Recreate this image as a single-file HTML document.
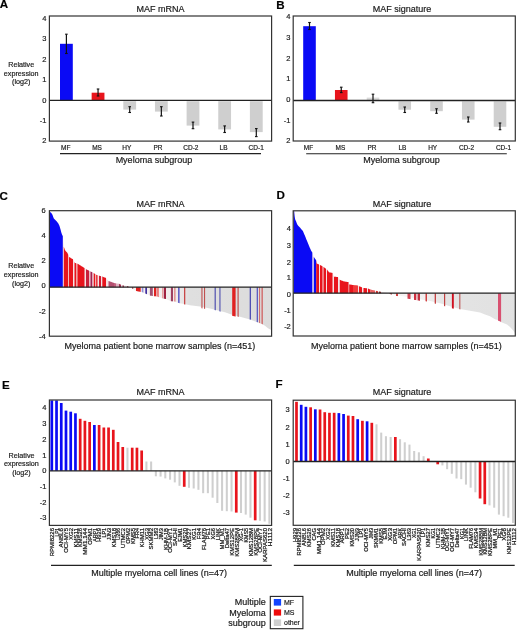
<!DOCTYPE html>
<html><head><meta charset="utf-8"><style>
html,body{margin:0;padding:0;background:#fff;}
svg{display:block;font-family:"Liberation Sans", sans-serif;will-change:transform;}
text{stroke:#1a1a1a;stroke-width:0.18px;}
</style></head><body>
<svg width="520" height="633" viewBox="0 0 520 633">
<rect x="0" y="0" width="520" height="633" fill="#fff"/>
<text x="-0.20" y="8.30" font-size="11.6" text-anchor="start" font-weight="bold" fill="#000" >A</text>
<text x="276.30" y="8.60" font-size="11.6" text-anchor="start" font-weight="bold" fill="#000" >B</text>
<text x="-0.60" y="199.60" font-size="11.6" text-anchor="start" font-weight="bold" fill="#000" >C</text>
<text x="276.60" y="199.20" font-size="11.6" text-anchor="start" font-weight="bold" fill="#000" >D</text>
<text x="2.00" y="388.60" font-size="11.6" text-anchor="start" font-weight="bold" fill="#000" >E</text>
<text x="275.60" y="388.20" font-size="11.6" text-anchor="start" font-weight="bold" fill="#000" >F</text>
<text x="160.50" y="11.90" font-size="9" text-anchor="middle" font-weight="normal" fill="#1a1a1a" >MAF mRNA</text>
<rect x="60.00" y="43.80" width="12.80" height="56.50" fill="#0a0af5" />
<line x1="66.40" y1="34.20" x2="66.40" y2="53.50" stroke="#111" stroke-width="1.2"/>
<line x1="65.10" y1="34.20" x2="67.70" y2="34.20" stroke="#111" stroke-width="1.1"/>
<line x1="65.10" y1="53.50" x2="67.70" y2="53.50" stroke="#111" stroke-width="1.1"/>
<text x="65.80" y="149.80" font-size="6.5" text-anchor="middle" font-weight="normal" fill="#1a1a1a" >MF</text>
<rect x="91.65" y="92.70" width="12.80" height="7.60" fill="#e8141c" />
<line x1="98.05" y1="89.00" x2="98.05" y2="96.00" stroke="#111" stroke-width="1.2"/>
<line x1="96.75" y1="89.00" x2="99.35" y2="89.00" stroke="#111" stroke-width="1.1"/>
<line x1="96.75" y1="96.00" x2="99.35" y2="96.00" stroke="#111" stroke-width="1.1"/>
<text x="97.00" y="149.80" font-size="6.5" text-anchor="middle" font-weight="normal" fill="#1a1a1a" >MS</text>
<rect x="123.30" y="101.20" width="12.80" height="8.40" fill="#cfcfcf" />
<line x1="129.70" y1="106.70" x2="129.70" y2="112.50" stroke="#111" stroke-width="1.2"/>
<line x1="128.40" y1="106.70" x2="131.00" y2="106.70" stroke="#111" stroke-width="1.1"/>
<line x1="128.40" y1="112.50" x2="131.00" y2="112.50" stroke="#111" stroke-width="1.1"/>
<text x="126.80" y="149.80" font-size="6.5" text-anchor="middle" font-weight="normal" fill="#1a1a1a" >HY</text>
<rect x="154.95" y="101.20" width="12.80" height="10.40" fill="#cfcfcf" />
<line x1="161.35" y1="106.70" x2="161.35" y2="116.00" stroke="#111" stroke-width="1.2"/>
<line x1="160.05" y1="106.70" x2="162.65" y2="106.70" stroke="#111" stroke-width="1.1"/>
<line x1="160.05" y1="116.00" x2="162.65" y2="116.00" stroke="#111" stroke-width="1.1"/>
<text x="157.90" y="149.80" font-size="6.5" text-anchor="middle" font-weight="normal" fill="#1a1a1a" >PR</text>
<rect x="186.60" y="101.20" width="12.80" height="24.40" fill="#cfcfcf" />
<line x1="193.00" y1="122.10" x2="193.00" y2="128.70" stroke="#111" stroke-width="1.2"/>
<line x1="191.70" y1="122.10" x2="194.30" y2="122.10" stroke="#111" stroke-width="1.1"/>
<line x1="191.70" y1="128.70" x2="194.30" y2="128.70" stroke="#111" stroke-width="1.1"/>
<text x="190.90" y="149.80" font-size="6.5" text-anchor="middle" font-weight="normal" fill="#1a1a1a" >CD-2</text>
<rect x="218.25" y="101.20" width="12.80" height="28.20" fill="#cfcfcf" />
<line x1="224.65" y1="125.90" x2="224.65" y2="132.50" stroke="#111" stroke-width="1.2"/>
<line x1="223.35" y1="125.90" x2="225.95" y2="125.90" stroke="#111" stroke-width="1.1"/>
<line x1="223.35" y1="132.50" x2="225.95" y2="132.50" stroke="#111" stroke-width="1.1"/>
<text x="223.60" y="149.80" font-size="6.5" text-anchor="middle" font-weight="normal" fill="#1a1a1a" >LB</text>
<rect x="249.90" y="101.20" width="12.80" height="30.90" fill="#cfcfcf" />
<line x1="256.30" y1="128.60" x2="256.30" y2="136.60" stroke="#111" stroke-width="1.2"/>
<line x1="255.00" y1="128.60" x2="257.60" y2="128.60" stroke="#111" stroke-width="1.1"/>
<line x1="255.00" y1="136.60" x2="257.60" y2="136.60" stroke="#111" stroke-width="1.1"/>
<text x="256.20" y="149.80" font-size="6.5" text-anchor="middle" font-weight="normal" fill="#1a1a1a" >CD-1</text>
<line x1="49.40" y1="100.30" x2="271.60" y2="100.30" stroke="#222" stroke-width="1.3"/>
<rect x="49.40" y="16.00" width="222.20" height="125.10" fill="none" stroke="#333" stroke-width="1.2"/>
<text x="46.40" y="20.90" font-size="7.5" text-anchor="end" font-weight="normal" fill="#1a1a1a" >4</text>
<text x="46.40" y="41.30" font-size="7.5" text-anchor="end" font-weight="normal" fill="#1a1a1a" >3</text>
<text x="46.40" y="61.60" font-size="7.5" text-anchor="end" font-weight="normal" fill="#1a1a1a" >2</text>
<text x="46.40" y="82.20" font-size="7.5" text-anchor="end" font-weight="normal" fill="#1a1a1a" >1</text>
<text x="46.40" y="102.80" font-size="7.5" text-anchor="end" font-weight="normal" fill="#1a1a1a" >0</text>
<text x="46.40" y="123.10" font-size="7.5" text-anchor="end" font-weight="normal" fill="#1a1a1a" >-1</text>
<text x="46.40" y="143.00" font-size="7.5" text-anchor="end" font-weight="normal" fill="#1a1a1a" >2</text>
<text x="21.20" y="67.00" font-size="7.2" text-anchor="middle" font-weight="normal" fill="#1a1a1a" >Relative</text>
<text x="21.20" y="75.60" font-size="7.2" text-anchor="middle" font-weight="normal" fill="#1a1a1a" >expression</text>
<text x="21.20" y="84.20" font-size="7.2" text-anchor="middle" font-weight="normal" fill="#1a1a1a" >(log2)</text>
<line x1="60.00" y1="153.60" x2="261.00" y2="153.60" stroke="#222" stroke-width="1.1"/>
<text x="153.90" y="162.80" font-size="9" text-anchor="middle" font-weight="normal" fill="#1a1a1a" >Myeloma subgroup</text>
<text x="402.00" y="12.00" font-size="9" text-anchor="middle" font-weight="normal" fill="#1a1a1a" >MAF signature</text>
<rect x="303.20" y="26.20" width="12.60" height="74.30" fill="#0a0af5" />
<line x1="309.50" y1="22.50" x2="309.50" y2="29.50" stroke="#111" stroke-width="1.2"/>
<line x1="308.20" y1="22.50" x2="310.80" y2="22.50" stroke="#111" stroke-width="1.1"/>
<line x1="308.20" y1="29.50" x2="310.80" y2="29.50" stroke="#111" stroke-width="1.1"/>
<text x="308.50" y="149.80" font-size="6.5" text-anchor="middle" font-weight="normal" fill="#1a1a1a" >MF</text>
<rect x="334.95" y="90.00" width="12.60" height="10.50" fill="#e8141c" />
<line x1="341.25" y1="87.20" x2="341.25" y2="92.60" stroke="#111" stroke-width="1.2"/>
<line x1="339.95" y1="87.20" x2="342.55" y2="87.20" stroke="#111" stroke-width="1.1"/>
<line x1="339.95" y1="92.60" x2="342.55" y2="92.60" stroke="#111" stroke-width="1.1"/>
<text x="340.40" y="149.80" font-size="6.5" text-anchor="middle" font-weight="normal" fill="#1a1a1a" >MS</text>
<rect x="366.70" y="97.60" width="12.60" height="2.90" fill="#dadada" />
<line x1="373.00" y1="94.20" x2="373.00" y2="102.70" stroke="#111" stroke-width="1.2"/>
<line x1="371.70" y1="94.20" x2="374.30" y2="94.20" stroke="#111" stroke-width="1.1"/>
<line x1="371.70" y1="102.70" x2="374.30" y2="102.70" stroke="#111" stroke-width="1.1"/>
<text x="372.00" y="149.80" font-size="6.5" text-anchor="middle" font-weight="normal" fill="#1a1a1a" >PR</text>
<rect x="398.45" y="101.40" width="12.60" height="8.30" fill="#cfcfcf" />
<line x1="404.75" y1="107.00" x2="404.75" y2="112.50" stroke="#111" stroke-width="1.2"/>
<line x1="403.45" y1="107.00" x2="406.05" y2="107.00" stroke="#111" stroke-width="1.1"/>
<line x1="403.45" y1="112.50" x2="406.05" y2="112.50" stroke="#111" stroke-width="1.1"/>
<text x="402.40" y="149.80" font-size="6.5" text-anchor="middle" font-weight="normal" fill="#1a1a1a" >LB</text>
<rect x="430.20" y="101.40" width="12.60" height="9.80" fill="#cfcfcf" />
<line x1="436.50" y1="108.75" x2="436.50" y2="113.30" stroke="#111" stroke-width="1.2"/>
<line x1="435.20" y1="108.75" x2="437.80" y2="108.75" stroke="#111" stroke-width="1.1"/>
<line x1="435.20" y1="113.30" x2="437.80" y2="113.30" stroke="#111" stroke-width="1.1"/>
<text x="432.70" y="149.80" font-size="6.5" text-anchor="middle" font-weight="normal" fill="#1a1a1a" >HY</text>
<rect x="461.95" y="101.40" width="12.60" height="18.20" fill="#cfcfcf" />
<line x1="468.25" y1="117.00" x2="468.25" y2="122.00" stroke="#111" stroke-width="1.2"/>
<line x1="466.95" y1="117.00" x2="469.55" y2="117.00" stroke="#111" stroke-width="1.1"/>
<line x1="466.95" y1="122.00" x2="469.55" y2="122.00" stroke="#111" stroke-width="1.1"/>
<text x="466.50" y="149.80" font-size="6.5" text-anchor="middle" font-weight="normal" fill="#1a1a1a" >CD-2</text>
<rect x="493.70" y="101.40" width="12.60" height="25.40" fill="#cfcfcf" />
<line x1="500.00" y1="123.00" x2="500.00" y2="129.70" stroke="#111" stroke-width="1.2"/>
<line x1="498.70" y1="123.00" x2="501.30" y2="123.00" stroke="#111" stroke-width="1.1"/>
<line x1="498.70" y1="129.70" x2="501.30" y2="129.70" stroke="#111" stroke-width="1.1"/>
<text x="503.50" y="149.80" font-size="6.5" text-anchor="middle" font-weight="normal" fill="#1a1a1a" >CD-1</text>
<line x1="293.20" y1="100.50" x2="515.30" y2="100.50" stroke="#222" stroke-width="1.3"/>
<rect x="293.20" y="16.00" width="222.10" height="125.00" fill="none" stroke="#333" stroke-width="1.2"/>
<text x="290.40" y="19.30" font-size="7.5" text-anchor="end" font-weight="normal" fill="#1a1a1a" >4</text>
<text x="290.40" y="40.20" font-size="7.5" text-anchor="end" font-weight="normal" fill="#1a1a1a" >3</text>
<text x="290.40" y="61.20" font-size="7.5" text-anchor="end" font-weight="normal" fill="#1a1a1a" >2</text>
<text x="290.40" y="81.10" font-size="7.5" text-anchor="end" font-weight="normal" fill="#1a1a1a" >1</text>
<text x="290.40" y="101.90" font-size="7.5" text-anchor="end" font-weight="normal" fill="#1a1a1a" >0</text>
<text x="290.40" y="122.50" font-size="7.5" text-anchor="end" font-weight="normal" fill="#1a1a1a" >-1</text>
<text x="290.40" y="143.00" font-size="7.5" text-anchor="end" font-weight="normal" fill="#1a1a1a" >2</text>
<line x1="306.20" y1="153.70" x2="506.80" y2="153.70" stroke="#222" stroke-width="1.1"/>
<text x="401.60" y="162.90" font-size="9" text-anchor="middle" font-weight="normal" fill="#1a1a1a" >Myeloma subgroup</text>
<text x="160.50" y="206.50" font-size="9" text-anchor="middle" font-weight="normal" fill="#1a1a1a" >MAF mRNA</text>
<defs><linearGradient id="gC" gradientUnits="userSpaceOnUse" x1="130" y1="0" x2="272" y2="0"><stop offset="0" stop-color="#f7f3f3"/><stop offset="0.33" stop-color="#efebeb"/><stop offset="0.42" stop-color="#dfdfdf"/><stop offset="1" stop-color="#dcdcdc"/></linearGradient><linearGradient id="gD" gradientUnits="userSpaceOnUse" x1="389" y1="0" x2="516" y2="0"><stop offset="0" stop-color="#faf6f6"/><stop offset="0.28" stop-color="#f0eeee"/><stop offset="0.45" stop-color="#e4e4e4"/><stop offset="1" stop-color="#e1e1e1"/></linearGradient></defs>
<polygon points="49.80,287.20 49.80,211.90 51.50,213.10 52.50,215.00 53.70,218.30 56.00,220.60 58.30,223.50 59.50,226.00 60.60,229.80 61.40,233.00 62.20,235.20 62.80,236.00 63.30,242.00 63.80,246.70 65.00,250.30 67.50,253.00 69.00,257.00 73.00,259.30 75.00,262.90 77.50,263.70 84.50,268.00 86.00,269.20 90.50,271.50 93.70,273.00 96.20,274.70 99.00,275.70 102.30,276.60 106.00,278.00 108.50,281.00 114.00,282.90 116.00,283.50 119.00,283.80 122.50,285.30 127.00,286.00 130.00,287.20 130.00,287.20" fill="#f4e4e6"/>
<polygon points="130.00,287.20 130.00,287.20 132.60,288.70 136.00,291.00 141.80,292.10 145.30,293.60 150.00,295.60 154.00,296.20 157.00,296.50 163.00,298.50 166.00,299.00 171.00,301.30 175.00,301.50 178.50,303.00 184.00,304.00 190.00,305.20 200.00,306.40 210.00,308.50 220.00,311.00 225.00,312.30 232.00,314.70 240.00,316.70 250.00,319.50 258.00,322.40 262.00,323.90 265.00,325.80 268.00,328.20 271.20,330.10 271.20,287.20" fill="url(#gC)"/>
<polygon points="49.80,287.20 49.80,211.90 50.30,212.25 50.80,212.61 51.30,212.96 51.80,213.67 52.30,214.62 52.80,215.82 53.30,217.20 53.80,218.40 54.30,218.90 54.80,219.40 55.30,219.90 55.80,220.40 56.30,220.98 56.80,221.61 57.30,222.24 57.80,222.87 58.30,223.50 58.80,224.54 59.30,225.58 59.80,227.04 60.30,228.76 60.80,230.60 61.30,232.60 61.80,234.10 62.30,235.33 62.80,236.00 62.80,287.20" fill="#0a0af5"/>
<polygon points="63.80,287.20 63.80,246.70 64.35,248.35 64.90,250.00 65.45,250.79 66.00,251.38 66.55,251.97 67.10,252.57 67.65,253.40 68.20,254.87 68.20,287.20" fill="#e8141c"/>
<polygon points="69.00,287.20 69.00,257.00 69.50,257.29 70.00,257.57 70.50,257.86 71.00,258.15 71.50,258.44 72.00,258.73 72.50,259.01 73.00,259.30 73.00,287.20" fill="#e8141c"/>
<polygon points="74.50,287.20 74.50,262.00 75.00,262.90 75.50,263.06 76.00,263.22 76.00,287.20" fill="#e8141c"/>
<polygon points="76.00,287.20 76.00,263.22 76.50,263.38 77.00,263.54 77.50,263.70 77.50,287.20" fill="#f0a0a0"/>
<polygon points="77.50,287.20 77.50,263.70 78.00,264.01 78.50,264.31 79.00,264.62 79.50,264.93 80.00,265.24 80.50,265.54 81.00,265.85 81.50,266.16 82.00,266.46 82.50,266.77 83.00,267.08 83.50,267.39 84.00,267.69 84.50,268.00 84.50,287.20" fill="#e8141c"/>
<polygon points="86.00,287.20 86.00,269.20 86.55,269.48 87.10,269.76 87.65,270.04 88.20,270.32 88.75,270.61 89.30,270.89 89.30,287.20" fill="#c8203a"/>
<polygon points="89.30,287.20 89.30,270.89 89.90,271.19 90.50,271.50 90.50,287.20" fill="#f0c0c8"/>
<polygon points="90.50,287.20 90.50,271.50 91.10,271.78 91.70,272.06 92.30,272.34 92.30,287.20" fill="#a42050"/>
<polygon points="93.70,287.20 93.70,273.00 94.35,273.44 95.00,273.88 95.00,287.20" fill="#e8141c"/>
<polygon points="95.00,287.20 95.00,273.88 95.60,274.29 96.20,274.70 96.20,287.20" fill="#f0b0b0"/>
<polygon points="96.20,287.20 96.20,274.70 96.85,274.93 97.50,275.16 97.50,287.20" fill="#e8141c"/>
<polygon points="99.00,287.20 99.00,275.70 99.50,275.84 100.00,275.97 100.50,276.11 101.00,276.25 101.00,287.20" fill="#d01830"/>
<polygon points="102.30,287.20 102.30,276.60 102.83,276.80 103.36,277.00 103.89,277.20 104.41,277.40 104.94,277.60 105.47,277.80 106.00,278.00 106.00,287.20" fill="#e8141c"/>
<polygon points="108.50,287.20 108.50,281.00 109.00,281.17 109.50,281.35 110.00,281.52 110.50,281.69 111.00,281.86 111.50,282.04 112.00,282.21 112.50,282.38 113.00,282.55 113.50,282.73 114.00,282.90 114.00,287.20" fill="#b45070"/>
<polygon points="114.00,287.20 114.00,282.90 114.50,283.05 115.00,283.20 115.50,283.35 116.00,283.50 116.00,287.20" fill="#c46080"/>
<polygon points="116.00,287.20 116.00,283.50 116.50,283.55 117.00,283.60 117.50,283.65 118.00,283.70 118.50,283.75 119.00,283.80 119.00,287.20" fill="#e0b0c0"/>
<polygon points="119.00,287.20 119.00,283.80 119.50,284.01 120.00,284.23 120.50,284.44 121.00,284.66 121.00,287.20" fill="#a03050"/>
<polygon points="122.50,287.20 122.50,285.30 123.00,285.38 123.50,285.46 124.00,285.53 124.00,287.20" fill="#a03050"/>
<polygon points="127.00,287.20 127.00,286.00 127.50,286.20 128.00,286.40 128.50,286.60 128.50,287.20" fill="#902030"/>
<polygon points="132.00,287.20 132.00,288.35 132.60,288.70 133.20,289.11 133.20,287.20" fill="#902a30"/>
<polygon points="136.00,287.20 136.00,291.00 136.52,291.10 137.04,291.20 137.57,291.30 138.09,291.40 138.61,291.50 139.13,291.59 139.66,291.69 140.18,291.79 140.70,291.89 140.70,287.20" fill="#e02020"/>
<polygon points="141.80,287.20 141.80,292.10 142.33,292.33 142.87,292.56 143.40,292.79 143.40,287.20" fill="#9090d8"/>
<polygon points="145.30,287.20 145.30,293.60 145.87,293.84 146.43,294.08 147.00,294.32 147.00,287.20" fill="#4030a0"/>
<polygon points="149.90,287.20 149.90,295.56 150.48,295.67 151.06,295.76 151.64,295.85 152.22,295.93 152.80,296.02 152.80,287.20" fill="#a05070"/>
<polygon points="154.00,287.20 154.00,296.20 154.57,296.26 155.15,296.31 155.73,296.37 156.30,296.43 156.30,287.20" fill="#e02020"/>
<polygon points="156.80,287.20 156.80,296.48 157.33,296.61 157.85,296.78 158.38,296.96 158.90,297.13 158.90,287.20" fill="#e88080"/>
<polygon points="162.00,287.20 162.00,298.17 162.60,298.37 163.20,298.53 163.20,287.20" fill="#e8a0a0"/>
<polygon points="163.80,287.20 163.80,298.63 164.35,298.73 164.90,298.82 165.45,298.91 166.00,299.00 166.00,287.20" fill="#a02040"/>
<polygon points="170.90,287.20 170.90,301.25 171.43,301.32 171.95,301.35 172.47,301.37 173.00,301.40 173.00,287.20" fill="#a04060"/>
<polygon points="174.20,287.20 174.20,301.46 174.85,301.49 175.50,301.71 175.50,287.20" fill="#e08080"/>
<polygon points="178.20,287.20 178.20,302.87 178.85,303.06 179.50,303.18 179.50,287.20" fill="#4040c0"/>
<polygon points="184.00,287.20 184.00,304.30 184.65,304.43 185.30,304.56 185.30,287.20" fill="#c84848"/>
<polygon points="201.40,287.20 201.40,308.19 201.95,308.31 202.50,308.42 202.50,287.20" fill="#c05050"/>
<polygon points="204.00,287.20 204.00,308.74 204.55,308.86 205.10,308.97 205.10,287.20" fill="#c05050"/>
<polygon points="214.60,287.20 214.60,310.05 215.20,310.20 215.80,310.35 215.80,287.20" fill="#5050b0"/>
<polygon points="219.40,287.20 219.40,311.35 219.95,311.49 220.50,311.63 220.50,287.20" fill="#5050b0"/>
<polygon points="232.20,287.20 232.20,315.75 232.77,315.89 233.33,316.03 233.90,316.17 234.47,316.32 235.03,316.46 235.60,316.60 235.60,287.20" fill="#e02020"/>
<polygon points="237.50,287.20 237.50,316.57 238.10,316.72 238.70,316.88 238.70,287.20" fill="#c05050"/>
<polygon points="249.70,287.20 249.70,319.42 250.30,319.61 250.90,319.83 250.90,287.20" fill="#4040b0"/>
<polygon points="256.70,287.20 256.70,321.93 257.30,322.15 257.90,322.36 257.90,287.20" fill="#5050c0"/>
<polygon points="259.00,287.20 259.00,322.77 259.55,322.98 260.10,323.19 260.10,287.20" fill="#d07070"/>
<polygon points="261.50,287.20 261.50,323.71 262.15,323.99 262.80,324.41 262.80,287.20" fill="#d06060"/>
<line x1="49.40" y1="287.20" x2="271.60" y2="287.20" stroke="#222" stroke-width="1.3"/>
<rect x="49.40" y="210.70" width="222.20" height="125.50" fill="none" stroke="#333" stroke-width="1.2"/>
<text x="45.60" y="212.70" font-size="7.5" text-anchor="end" font-weight="normal" fill="#1a1a1a" >6</text>
<text x="45.60" y="237.50" font-size="7.5" text-anchor="end" font-weight="normal" fill="#1a1a1a" >4</text>
<text x="45.60" y="262.90" font-size="7.5" text-anchor="end" font-weight="normal" fill="#1a1a1a" >2</text>
<text x="45.60" y="288.30" font-size="7.5" text-anchor="end" font-weight="normal" fill="#1a1a1a" >0</text>
<text x="45.60" y="313.90" font-size="7.5" text-anchor="end" font-weight="normal" fill="#1a1a1a" >-2</text>
<text x="45.60" y="338.80" font-size="7.5" text-anchor="end" font-weight="normal" fill="#1a1a1a" >-4</text>
<text x="21.20" y="268.40" font-size="7.2" text-anchor="middle" font-weight="normal" fill="#1a1a1a" >Relative</text>
<text x="21.20" y="277.00" font-size="7.2" text-anchor="middle" font-weight="normal" fill="#1a1a1a" >expression</text>
<text x="21.20" y="285.60" font-size="7.2" text-anchor="middle" font-weight="normal" fill="#1a1a1a" >(log2)</text>
<text x="64.40" y="349.40" font-size="9" text-anchor="start" font-weight="normal" fill="#1a1a1a" >Myeloma patient bone marrow samples (n=451)</text>
<text x="402.00" y="206.50" font-size="9" text-anchor="middle" font-weight="normal" fill="#1a1a1a" >MAF signature</text>
<polygon points="293.60,293.20 293.60,210.80 294.40,211.00 294.70,218.40 295.80,220.80 297.40,224.80 300.20,227.90 302.90,231.10 304.90,235.80 306.50,239.80 308.50,244.50 310.10,248.50 311.60,251.60 312.30,252.50 313.80,256.90 316.20,260.50 316.30,263.40 320.00,264.90 323.50,267.00 327.00,269.50 329.00,272.30 332.50,272.90 334.00,276.70 338.00,277.00 339.80,279.80 344.00,281.50 348.50,282.10 349.20,284.40 353.00,285.00 358.00,285.50 359.00,286.20 363.50,287.90 368.00,288.50 370.50,289.60 376.00,290.80 379.00,291.50 385.00,292.60 389.00,293.20 389.00,293.20" fill="#f4e4e6"/>
<polygon points="389.00,293.20 389.00,293.20 392.00,294.10 396.00,295.50 400.00,295.80 410.00,297.60 420.00,299.30 430.00,301.00 440.00,303.30 450.00,306.20 460.00,309.10 470.00,310.70 480.00,312.50 485.00,314.50 490.00,316.20 495.00,319.30 500.00,320.80 502.00,322.40 507.00,324.60 510.00,326.90 513.00,330.20 515.00,333.00 515.00,293.20" fill="url(#gD)"/>
<polygon points="293.60,293.20 293.60,210.80 294.11,210.93 294.61,216.20 295.12,219.31 295.62,220.41 296.13,221.62 296.63,222.88 297.14,224.14 297.64,225.07 298.15,225.63 298.65,226.19 299.16,226.75 299.66,227.31 300.17,227.87 300.68,228.46 301.18,229.06 301.69,229.66 302.19,230.26 302.70,230.86 303.20,231.81 303.71,233.00 304.21,234.19 304.72,235.37 305.22,236.61 305.73,237.87 306.24,239.14 306.74,240.37 307.25,241.55 307.75,242.74 308.26,243.93 308.76,245.16 309.27,246.42 309.77,247.68 310.28,248.87 310.78,249.91 311.29,250.96 311.79,251.85 312.30,252.50 312.30,293.20" fill="#0a0af5"/>
<polygon points="313.80,293.20 313.80,256.90 314.40,257.80 315.00,258.70 315.60,259.60 316.20,260.50 316.20,293.20" fill="#0a0af5"/>
<polygon points="316.20,293.20 316.20,260.50 316.76,263.59 317.32,263.81 317.88,264.04 318.44,264.27 319.00,264.49 319.00,293.20" fill="#e8141c"/>
<polygon points="320.00,293.20 320.00,264.90 320.50,265.20 321.00,265.50 321.50,265.80 322.00,266.10 322.50,266.40 322.50,293.20" fill="#e8141c"/>
<polygon points="323.50,293.20 323.50,267.00 324.00,267.36 324.50,267.71 325.00,268.07 325.50,268.43 326.00,268.79 326.00,293.20" fill="#e8141c"/>
<polygon points="327.00,293.20 327.00,269.50 327.50,270.20 328.00,270.90 328.50,271.60 329.00,272.30 329.50,272.39 330.00,272.47 330.50,272.56 331.00,272.64 331.50,272.73 332.00,272.81 332.50,272.90 332.50,293.20" fill="#e8141c"/>
<polygon points="334.00,293.20 334.00,276.70 334.50,276.74 335.00,276.77 335.50,276.81 336.00,276.85 336.50,276.89 337.00,276.93 337.50,276.96 338.00,277.00 338.00,293.20" fill="#e8141c"/>
<polygon points="339.80,293.20 339.80,279.80 340.31,280.01 340.82,280.21 341.34,280.42 341.85,280.63 342.36,280.84 342.87,281.04 343.38,281.25 343.89,281.46 344.41,281.55 344.92,281.62 345.43,281.69 345.94,281.76 346.45,281.83 346.96,281.90 347.48,281.96 347.99,282.03 348.50,282.10 348.50,293.20" fill="#e8141c"/>
<polygon points="349.20,293.20 349.20,284.40 349.74,284.49 350.29,284.57 350.83,284.66 351.37,284.74 351.91,284.83 352.46,284.91 353.00,285.00 353.00,293.20" fill="#e8141c"/>
<polygon points="353.00,293.20 353.00,285.00 353.50,285.05 354.00,285.10 354.50,285.15 355.00,285.20 355.50,285.25 356.00,285.30 356.50,285.35 357.00,285.40 357.50,285.45 358.00,285.50 358.00,293.20" fill="#f03a3a"/>
<polygon points="359.00,293.20 359.00,286.20 359.50,286.39 360.00,286.58 360.50,286.77 361.00,286.96 361.50,287.14 362.00,287.33 362.00,293.20" fill="#e8141c"/>
<polygon points="363.50,293.20 363.50,287.90 364.00,287.97 364.50,288.03 365.00,288.10 365.50,288.17 366.00,288.23 366.50,288.30 367.00,288.37 367.00,293.20" fill="#e8141c"/>
<polygon points="368.00,293.20 368.00,288.50 368.50,288.72 369.00,288.94 369.50,289.16 370.00,289.38 370.50,289.60 370.50,293.20" fill="#e8141c"/>
<polygon points="370.50,293.20 370.50,289.60 371.00,289.71 371.50,289.82 372.00,289.93 372.50,290.04 373.00,290.15 373.50,290.25 374.00,290.36 374.50,290.47 375.00,290.58 375.00,293.20" fill="#e86060"/>
<polygon points="376.00,293.20 376.00,290.80 376.50,290.92 377.00,291.03 377.50,291.15 378.00,291.27 378.00,293.20" fill="#d83030"/>
<polygon points="379.00,293.20 379.00,291.50 379.50,291.59 380.00,291.68 380.50,291.77 381.00,291.87 381.00,293.20" fill="#902a2a"/>
<polygon points="389.50,293.20 389.50,293.85 390.00,294.00 390.50,294.15 391.00,294.30 391.50,294.45 392.00,294.60 392.00,293.20" fill="#a03030"/>
<polygon points="396.00,293.20 396.00,296.00 396.50,296.04 397.00,296.07 397.50,296.11 398.00,296.15 398.00,293.20" fill="#d04040"/>
<polygon points="407.50,293.20 407.50,298.65 408.00,298.74 408.50,298.83 409.00,298.92 409.50,299.01 410.00,299.10 410.50,299.19 410.50,293.20" fill="#d04050"/>
<polygon points="414.00,293.20 414.00,299.78 414.57,299.88 415.15,299.98 415.73,300.07 416.30,300.17 416.30,293.20" fill="#d03040"/>
<polygon points="417.60,293.20 417.60,300.39 418.20,300.49 418.80,300.60 419.40,300.70 420.00,300.80 420.00,293.20" fill="#c03040"/>
<polygon points="425.50,293.20 425.50,301.24 426.00,301.32 426.50,301.41 427.00,301.49 427.00,293.20" fill="#d04040"/>
<polygon points="434.70,293.20 434.70,303.58 435.30,303.72 435.90,303.86 435.90,293.20" fill="#c03030"/>
<polygon points="444.00,293.20 444.00,305.96 444.60,306.13 445.20,306.31 445.20,293.20" fill="#c04040"/>
<polygon points="451.90,293.20 451.90,308.25 452.53,308.43 453.17,308.62 453.80,308.80 453.80,293.20" fill="#d01020"/>
<polygon points="459.20,293.20 459.20,309.17 459.80,309.34 460.40,309.46 460.40,293.20" fill="#c06060"/>
<polygon points="498.00,293.20 498.00,320.70 498.52,320.86 499.03,321.01 499.55,321.17 500.07,321.35 500.58,321.77 501.10,322.18 501.10,293.20" fill="#d85070"/>
<line x1="293.20" y1="293.20" x2="515.30" y2="293.20" stroke="#222" stroke-width="1.3"/>
<rect x="293.20" y="210.80" width="222.10" height="125.20" fill="none" stroke="#333" stroke-width="1.2"/>
<text x="290.80" y="231.10" font-size="7.5" text-anchor="end" font-weight="normal" fill="#1a1a1a" >4</text>
<text x="290.80" y="248.10" font-size="7.5" text-anchor="end" font-weight="normal" fill="#1a1a1a" >3</text>
<text x="290.80" y="264.50" font-size="7.5" text-anchor="end" font-weight="normal" fill="#1a1a1a" >2</text>
<text x="290.80" y="280.40" font-size="7.5" text-anchor="end" font-weight="normal" fill="#1a1a1a" >1</text>
<text x="290.80" y="296.70" font-size="7.5" text-anchor="end" font-weight="normal" fill="#1a1a1a" >0</text>
<text x="290.80" y="312.50" font-size="7.5" text-anchor="end" font-weight="normal" fill="#1a1a1a" >-1</text>
<text x="290.80" y="329.00" font-size="7.5" text-anchor="end" font-weight="normal" fill="#1a1a1a" >-2</text>
<text x="311.00" y="348.60" font-size="9" text-anchor="start" font-weight="normal" fill="#1a1a1a" >Myeloma patient bone marrow samples (n=451)</text>
<text x="160.50" y="394.50" font-size="9" text-anchor="middle" font-weight="normal" fill="#1a1a1a" >MAF mRNA</text>
<rect x="50.45" y="400.40" width="2.70" height="70.40" fill="#0a0af5" />
<rect x="55.18" y="400.40" width="2.70" height="70.40" fill="#0a0af5" />
<rect x="59.91" y="403.00" width="2.70" height="67.80" fill="#0a0af5" />
<rect x="64.64" y="410.60" width="2.70" height="60.20" fill="#0a0af5" />
<rect x="69.37" y="411.70" width="2.70" height="59.10" fill="#0a0af5" />
<rect x="74.10" y="413.30" width="2.70" height="57.50" fill="#0a0af5" />
<rect x="78.83" y="418.80" width="2.70" height="52.00" fill="#e8141c" />
<rect x="83.56" y="420.80" width="2.70" height="50.00" fill="#e8141c" />
<rect x="88.29" y="422.00" width="2.70" height="48.80" fill="#e8141c" />
<rect x="93.02" y="425.00" width="2.70" height="45.80" fill="#0a0af5" />
<rect x="97.75" y="425.00" width="2.70" height="45.80" fill="#e8141c" />
<rect x="102.48" y="427.50" width="2.70" height="43.30" fill="#e8141c" />
<rect x="107.21" y="427.50" width="2.70" height="43.30" fill="#e8141c" />
<rect x="111.94" y="429.80" width="2.70" height="41.00" fill="#e8141c" />
<rect x="116.67" y="442.00" width="2.70" height="28.80" fill="#e8141c" />
<rect x="121.40" y="447.00" width="2.70" height="23.80" fill="#e8141c" />
<rect x="126.45" y="447.70" width="2.05" height="23.10" fill="#cfcfcf" />
<rect x="130.86" y="447.70" width="2.70" height="23.10" fill="#e8141c" />
<rect x="135.59" y="447.70" width="2.70" height="23.10" fill="#e8141c" />
<rect x="140.32" y="450.50" width="2.70" height="20.30" fill="#e8141c" />
<rect x="145.38" y="461.50" width="2.05" height="9.30" fill="#cfcfcf" />
<rect x="150.10" y="461.50" width="2.05" height="9.30" fill="#cfcfcf" />
<rect x="154.84" y="470.80" width="2.05" height="5.50" fill="#cfcfcf" />
<rect x="159.56" y="470.80" width="2.05" height="5.80" fill="#cfcfcf" />
<rect x="164.29" y="470.80" width="2.05" height="7.60" fill="#cfcfcf" />
<rect x="169.03" y="470.80" width="2.05" height="8.90" fill="#cfcfcf" />
<rect x="173.76" y="470.80" width="2.05" height="11.60" fill="#cfcfcf" />
<rect x="178.48" y="470.80" width="2.05" height="15.00" fill="#cfcfcf" />
<rect x="182.89" y="470.80" width="2.70" height="16.00" fill="#e8141c" />
<rect x="187.95" y="470.80" width="2.05" height="17.00" fill="#cfcfcf" />
<rect x="192.67" y="470.80" width="2.05" height="17.70" fill="#cfcfcf" />
<rect x="197.41" y="470.80" width="2.05" height="19.00" fill="#cfcfcf" />
<rect x="202.14" y="470.80" width="2.05" height="22.40" fill="#cfcfcf" />
<rect x="206.86" y="470.80" width="2.05" height="22.40" fill="#cfcfcf" />
<rect x="211.59" y="470.80" width="2.05" height="26.90" fill="#cfcfcf" />
<rect x="216.33" y="470.80" width="2.05" height="32.20" fill="#cfcfcf" />
<rect x="221.06" y="470.80" width="2.05" height="40.00" fill="#cfcfcf" />
<rect x="225.78" y="470.80" width="2.05" height="40.40" fill="#cfcfcf" />
<rect x="230.52" y="470.80" width="2.05" height="40.70" fill="#cfcfcf" />
<rect x="234.92" y="470.80" width="2.70" height="41.80" fill="#e8141c" />
<rect x="239.97" y="470.80" width="2.05" height="42.20" fill="#cfcfcf" />
<rect x="244.71" y="470.80" width="2.05" height="43.80" fill="#cfcfcf" />
<rect x="249.44" y="470.80" width="2.05" height="46.90" fill="#cfcfcf" />
<rect x="253.84" y="470.80" width="2.70" height="49.50" fill="#e8141c" />
<rect x="258.90" y="470.80" width="2.05" height="50.00" fill="#cfcfcf" />
<rect x="263.63" y="470.80" width="2.05" height="50.70" fill="#cfcfcf" />
<rect x="268.36" y="470.80" width="2.05" height="53.00" fill="#cfcfcf" />
<text transform="translate(54.00,528.0) rotate(-90)" font-size="6.0" text-anchor="end" fill="#1a1a1a" style="stroke-width:0.24px" textLength="28.2" lengthAdjust="spacingAndGlyphs">RPMI8226</text>
<text transform="translate(58.73,528.0) rotate(-90)" font-size="6.0" text-anchor="end" fill="#1a1a1a" style="stroke-width:0.24px" textLength="8.5" lengthAdjust="spacingAndGlyphs">LP1</text>
<text transform="translate(63.47,528.0) rotate(-90)" font-size="6.0" text-anchor="end" fill="#1a1a1a" style="stroke-width:0.24px" textLength="19.6" lengthAdjust="spacingAndGlyphs">ANBL6</text>
<text transform="translate(68.20,528.0) rotate(-90)" font-size="6.0" text-anchor="end" fill="#1a1a1a" style="stroke-width:0.24px" textLength="24.8" lengthAdjust="spacingAndGlyphs">OCI-MY5</text>
<text transform="translate(72.94,528.0) rotate(-90)" font-size="6.0" text-anchor="end" fill="#1a1a1a" style="stroke-width:0.24px" textLength="12.0" lengthAdjust="spacingAndGlyphs">XG2</text>
<text transform="translate(77.67,528.0) rotate(-90)" font-size="6.0" text-anchor="end" fill="#1a1a1a" style="stroke-width:0.24px" textLength="19.6" lengthAdjust="spacingAndGlyphs">KMS11</text>
<text transform="translate(82.41,528.0) rotate(-90)" font-size="6.0" text-anchor="end" fill="#1a1a1a" style="stroke-width:0.24px" textLength="19.0" lengthAdjust="spacingAndGlyphs">KMS26</text>
<text transform="translate(87.14,528.0) rotate(-90)" font-size="6.0" text-anchor="end" fill="#1a1a1a" style="stroke-width:0.24px" textLength="26.8" lengthAdjust="spacingAndGlyphs">MM1.144</text>
<text transform="translate(91.88,528.0) rotate(-90)" font-size="6.0" text-anchor="end" fill="#1a1a1a" style="stroke-width:0.24px" textLength="16.7" lengthAdjust="spacingAndGlyphs">OPM1</text>
<text transform="translate(96.61,528.0) rotate(-90)" font-size="6.0" text-anchor="end" fill="#1a1a1a" style="stroke-width:0.24px" textLength="13.8" lengthAdjust="spacingAndGlyphs">ARP1</text>
<text transform="translate(101.35,528.0) rotate(-90)" font-size="6.0" text-anchor="end" fill="#1a1a1a" style="stroke-width:0.24px" textLength="13.8" lengthAdjust="spacingAndGlyphs">H929</text>
<text transform="translate(106.08,528.0) rotate(-90)" font-size="6.0" text-anchor="end" fill="#1a1a1a" style="stroke-width:0.24px" textLength="9.5" lengthAdjust="spacingAndGlyphs">LP1</text>
<text transform="translate(110.82,528.0) rotate(-90)" font-size="6.0" text-anchor="end" fill="#1a1a1a" style="stroke-width:0.24px" textLength="12.3" lengthAdjust="spacingAndGlyphs">JJN3</text>
<text transform="translate(115.56,528.0) rotate(-90)" font-size="6.0" text-anchor="end" fill="#1a1a1a" style="stroke-width:0.24px" textLength="19.6" lengthAdjust="spacingAndGlyphs">KMS18</text>
<text transform="translate(120.29,528.0) rotate(-90)" font-size="6.0" text-anchor="end" fill="#1a1a1a" style="stroke-width:0.24px" textLength="12.0" lengthAdjust="spacingAndGlyphs">U266</text>
<text transform="translate(125.03,528.0) rotate(-90)" font-size="6.0" text-anchor="end" fill="#1a1a1a" style="stroke-width:0.24px" textLength="20.0" lengthAdjust="spacingAndGlyphs">UTMC2</text>
<text transform="translate(129.76,528.0) rotate(-90)" font-size="6.0" text-anchor="end" fill="#1a1a1a" style="stroke-width:0.24px" textLength="15.7" lengthAdjust="spacingAndGlyphs">OPM2</text>
<text transform="translate(134.50,528.0) rotate(-90)" font-size="6.0" text-anchor="end" fill="#1a1a1a" style="stroke-width:0.24px" textLength="16.0" lengthAdjust="spacingAndGlyphs">KMS5</text>
<text transform="translate(139.23,528.0) rotate(-90)" font-size="6.0" text-anchor="end" fill="#1a1a1a" style="stroke-width:0.24px" textLength="10.4" lengthAdjust="spacingAndGlyphs">FR4</text>
<text transform="translate(143.97,528.0) rotate(-90)" font-size="6.0" text-anchor="end" fill="#1a1a1a" style="stroke-width:0.24px" textLength="19.6" lengthAdjust="spacingAndGlyphs">KHM11</text>
<text transform="translate(148.70,528.0) rotate(-90)" font-size="6.0" text-anchor="end" fill="#1a1a1a" style="stroke-width:0.24px" textLength="12.0" lengthAdjust="spacingAndGlyphs">XG3</text>
<text transform="translate(153.44,528.0) rotate(-90)" font-size="6.0" text-anchor="end" fill="#1a1a1a" style="stroke-width:0.24px" textLength="21.5" lengthAdjust="spacingAndGlyphs">SKMM2</text>
<text transform="translate(158.17,528.0) rotate(-90)" font-size="6.0" text-anchor="end" fill="#1a1a1a" style="stroke-width:0.24px" textLength="11.0" lengthAdjust="spacingAndGlyphs">L363</text>
<text transform="translate(162.91,528.0) rotate(-90)" font-size="6.0" text-anchor="end" fill="#1a1a1a" style="stroke-width:0.24px" textLength="12.3" lengthAdjust="spacingAndGlyphs">JIM3</text>
<text transform="translate(167.64,528.0) rotate(-90)" font-size="6.0" text-anchor="end" fill="#1a1a1a" style="stroke-width:0.24px" textLength="22.0" lengthAdjust="spacingAndGlyphs">KHM-1B</text>
<text transform="translate(172.38,528.0) rotate(-90)" font-size="6.0" text-anchor="end" fill="#1a1a1a" style="stroke-width:0.24px" textLength="24.8" lengthAdjust="spacingAndGlyphs">OCI-MY1</text>
<text transform="translate(177.11,528.0) rotate(-90)" font-size="6.0" text-anchor="end" fill="#1a1a1a" style="stroke-width:0.24px" textLength="18.0" lengthAdjust="spacingAndGlyphs">SACHI</text>
<text transform="translate(181.84,528.0) rotate(-90)" font-size="6.0" text-anchor="end" fill="#1a1a1a" style="stroke-width:0.24px" textLength="13.8" lengthAdjust="spacingAndGlyphs">EJM1</text>
<text transform="translate(186.58,528.0) rotate(-90)" font-size="6.0" text-anchor="end" fill="#1a1a1a" style="stroke-width:0.24px" textLength="19.6" lengthAdjust="spacingAndGlyphs">KMS20</text>
<text transform="translate(191.31,528.0) rotate(-90)" font-size="6.0" text-anchor="end" fill="#1a1a1a" style="stroke-width:0.24px" textLength="21.5" lengthAdjust="spacingAndGlyphs">KMS27</text>
<text transform="translate(196.05,528.0) rotate(-90)" font-size="6.0" text-anchor="end" fill="#1a1a1a" style="stroke-width:0.24px" textLength="12.0" lengthAdjust="spacingAndGlyphs">KG1</text>
<text transform="translate(200.78,528.0) rotate(-90)" font-size="6.0" text-anchor="end" fill="#1a1a1a" style="stroke-width:0.24px" textLength="11.4" lengthAdjust="spacingAndGlyphs">FR4</text>
<text transform="translate(205.52,528.0) rotate(-90)" font-size="6.0" text-anchor="end" fill="#1a1a1a" style="stroke-width:0.24px" textLength="22.0" lengthAdjust="spacingAndGlyphs">FLAM76</text>
<text transform="translate(210.26,528.0) rotate(-90)" font-size="6.0" text-anchor="end" fill="#1a1a1a" style="stroke-width:0.24px" textLength="11.4" lengthAdjust="spacingAndGlyphs">PE1</text>
<text transform="translate(214.99,528.0) rotate(-90)" font-size="6.0" text-anchor="end" fill="#1a1a1a" style="stroke-width:0.24px" textLength="11.4" lengthAdjust="spacingAndGlyphs">XG6</text>
<text transform="translate(219.73,528.0) rotate(-90)" font-size="6.0" text-anchor="end" fill="#1a1a1a" style="stroke-width:0.24px" textLength="12.3" lengthAdjust="spacingAndGlyphs">LINK</text>
<text transform="translate(224.46,528.0) rotate(-90)" font-size="6.0" text-anchor="end" fill="#1a1a1a" style="stroke-width:0.24px" textLength="21.5" lengthAdjust="spacingAndGlyphs">MM_M1</text>
<text transform="translate(229.20,528.0) rotate(-90)" font-size="6.0" text-anchor="end" fill="#1a1a1a" style="stroke-width:0.24px" textLength="20.3" lengthAdjust="spacingAndGlyphs">Delta47</text>
<text transform="translate(233.93,528.0) rotate(-90)" font-size="6.0" text-anchor="end" fill="#1a1a1a" style="stroke-width:0.24px" textLength="27.7" lengthAdjust="spacingAndGlyphs">KMS12PE</text>
<text transform="translate(238.67,528.0) rotate(-90)" font-size="6.0" text-anchor="end" fill="#1a1a1a" style="stroke-width:0.24px" textLength="28.8" lengthAdjust="spacingAndGlyphs">KMS28BM</text>
<text transform="translate(243.40,528.0) rotate(-90)" font-size="6.0" text-anchor="end" fill="#1a1a1a" style="stroke-width:0.24px" textLength="13.5" lengthAdjust="spacingAndGlyphs">XG-1</text>
<text transform="translate(248.14,528.0) rotate(-90)" font-size="6.0" text-anchor="end" fill="#1a1a1a" style="stroke-width:0.24px" textLength="14.5" lengthAdjust="spacingAndGlyphs">KMS5</text>
<text transform="translate(252.87,528.0) rotate(-90)" font-size="6.0" text-anchor="end" fill="#1a1a1a" style="stroke-width:0.24px" textLength="28.3" lengthAdjust="spacingAndGlyphs">KMS12BM</text>
<text transform="translate(257.61,528.0) rotate(-90)" font-size="6.0" text-anchor="end" fill="#1a1a1a" style="stroke-width:0.24px" textLength="27.7" lengthAdjust="spacingAndGlyphs">KMS28PE</text>
<text transform="translate(262.34,528.0) rotate(-90)" font-size="6.0" text-anchor="end" fill="#1a1a1a" style="stroke-width:0.24px" textLength="24.6" lengthAdjust="spacingAndGlyphs">OCI-MY7</text>
<text transform="translate(267.08,528.0) rotate(-90)" font-size="6.0" text-anchor="end" fill="#1a1a1a" style="stroke-width:0.24px" textLength="34.0" lengthAdjust="spacingAndGlyphs">KARPAS620</text>
<text transform="translate(271.81,528.0) rotate(-90)" font-size="6.0" text-anchor="end" fill="#1a1a1a" style="stroke-width:0.24px" textLength="18.2" lengthAdjust="spacingAndGlyphs">H1112</text>
<line x1="49.40" y1="470.80" x2="271.60" y2="470.80" stroke="#222" stroke-width="1.3"/>
<rect x="49.40" y="400.00" width="222.20" height="125.40" fill="none" stroke="#333" stroke-width="1.2"/>
<text x="46.50" y="409.70" font-size="7.5" text-anchor="end" font-weight="normal" fill="#1a1a1a" >4</text>
<text x="46.50" y="425.90" font-size="7.5" text-anchor="end" font-weight="normal" fill="#1a1a1a" >3</text>
<text x="46.50" y="441.60" font-size="7.5" text-anchor="end" font-weight="normal" fill="#1a1a1a" >2</text>
<text x="46.50" y="457.60" font-size="7.5" text-anchor="end" font-weight="normal" fill="#1a1a1a" >1</text>
<text x="46.50" y="473.20" font-size="7.5" text-anchor="end" font-weight="normal" fill="#1a1a1a" >0</text>
<text x="46.50" y="489.20" font-size="7.5" text-anchor="end" font-weight="normal" fill="#1a1a1a" >-1</text>
<text x="46.50" y="504.70" font-size="7.5" text-anchor="end" font-weight="normal" fill="#1a1a1a" >-2</text>
<text x="46.50" y="520.10" font-size="7.5" text-anchor="end" font-weight="normal" fill="#1a1a1a" >-3</text>
<text x="21.50" y="457.60" font-size="7.2" text-anchor="middle" font-weight="normal" fill="#1a1a1a" >Relative</text>
<text x="21.50" y="466.20" font-size="7.2" text-anchor="middle" font-weight="normal" fill="#1a1a1a" >expression</text>
<text x="21.50" y="474.80" font-size="7.2" text-anchor="middle" font-weight="normal" fill="#1a1a1a" >(log2)</text>
<line x1="51.00" y1="565.40" x2="271.80" y2="565.40" stroke="#222" stroke-width="1.1"/>
<text x="91.20" y="576.00" font-size="9" text-anchor="start" font-weight="normal" fill="#1a1a1a" >Multiple myeloma cell lines (n=47)</text>
<text x="402.00" y="394.50" font-size="9" text-anchor="middle" font-weight="normal" fill="#1a1a1a" >MAF signature</text>
<rect x="295.15" y="401.80" width="2.70" height="59.70" fill="#e8141c" />
<rect x="299.86" y="404.80" width="2.70" height="56.70" fill="#0a0af5" />
<rect x="304.56" y="406.80" width="2.70" height="54.70" fill="#0a0af5" />
<rect x="309.27" y="407.30" width="2.70" height="54.20" fill="#e8141c" />
<rect x="313.98" y="409.30" width="2.70" height="52.20" fill="#0a0af5" />
<rect x="318.69" y="409.50" width="2.70" height="52.00" fill="#e8141c" />
<rect x="323.39" y="412.20" width="2.70" height="49.30" fill="#e8141c" />
<rect x="328.10" y="412.80" width="2.70" height="48.70" fill="#e8141c" />
<rect x="332.81" y="412.80" width="2.70" height="48.70" fill="#e8141c" />
<rect x="337.51" y="413.10" width="2.70" height="48.40" fill="#0a0af5" />
<rect x="342.22" y="414.00" width="2.70" height="47.50" fill="#0a0af5" />
<rect x="346.93" y="415.60" width="2.70" height="45.90" fill="#e8141c" />
<rect x="351.63" y="416.00" width="2.70" height="45.50" fill="#e8141c" />
<rect x="356.34" y="419.20" width="2.70" height="42.30" fill="#0a0af5" />
<rect x="361.05" y="420.80" width="2.70" height="40.70" fill="#e8141c" />
<rect x="365.75" y="421.30" width="2.70" height="40.20" fill="#0a0af5" />
<rect x="370.46" y="422.80" width="2.70" height="38.70" fill="#e8141c" />
<rect x="375.49" y="424.30" width="2.05" height="37.20" fill="#cfcfcf" />
<rect x="380.20" y="432.60" width="2.05" height="28.90" fill="#cfcfcf" />
<rect x="384.91" y="436.20" width="2.05" height="25.30" fill="#cfcfcf" />
<rect x="389.62" y="437.00" width="2.05" height="24.50" fill="#cfcfcf" />
<rect x="394.00" y="437.00" width="2.70" height="24.50" fill="#e8141c" />
<rect x="399.03" y="439.20" width="2.05" height="22.30" fill="#cfcfcf" />
<rect x="403.74" y="442.30" width="2.05" height="19.20" fill="#cfcfcf" />
<rect x="408.44" y="444.60" width="2.05" height="16.90" fill="#cfcfcf" />
<rect x="413.15" y="451.00" width="2.05" height="10.50" fill="#cfcfcf" />
<rect x="417.86" y="452.30" width="2.05" height="9.20" fill="#cfcfcf" />
<rect x="422.56" y="456.20" width="2.05" height="5.30" fill="#cfcfcf" />
<rect x="426.95" y="458.50" width="2.70" height="3.00" fill="#e8141c" />
<rect x="431.98" y="461.00" width="2.05" height="0.50" fill="#cfcfcf" />
<rect x="436.36" y="461.50" width="2.70" height="2.80" fill="#e8141c" />
<rect x="441.39" y="461.50" width="2.05" height="3.90" fill="#cfcfcf" />
<rect x="446.10" y="461.50" width="2.05" height="7.70" fill="#cfcfcf" />
<rect x="450.81" y="461.50" width="2.05" height="12.30" fill="#cfcfcf" />
<rect x="455.51" y="461.50" width="2.05" height="17.00" fill="#cfcfcf" />
<rect x="460.22" y="461.50" width="2.05" height="17.70" fill="#cfcfcf" />
<rect x="464.93" y="461.50" width="2.05" height="23.10" fill="#cfcfcf" />
<rect x="469.63" y="461.50" width="2.05" height="26.20" fill="#cfcfcf" />
<rect x="474.34" y="461.50" width="2.05" height="30.80" fill="#cfcfcf" />
<rect x="478.72" y="461.50" width="2.70" height="37.00" fill="#e8141c" />
<rect x="483.43" y="461.50" width="2.70" height="42.70" fill="#e8141c" />
<rect x="488.46" y="461.50" width="2.05" height="43.90" fill="#cfcfcf" />
<rect x="493.17" y="461.50" width="2.05" height="46.20" fill="#cfcfcf" />
<rect x="497.88" y="461.50" width="2.05" height="53.10" fill="#cfcfcf" />
<rect x="502.58" y="461.50" width="2.05" height="54.70" fill="#cfcfcf" />
<rect x="507.29" y="461.50" width="2.05" height="56.20" fill="#cfcfcf" />
<rect x="512.00" y="461.50" width="2.05" height="61.50" fill="#cfcfcf" />
<text transform="translate(296.70,528.0) rotate(-90)" font-size="6.0" text-anchor="end" fill="#1a1a1a" style="stroke-width:0.24px" textLength="14.2" lengthAdjust="spacingAndGlyphs">H929</text>
<text transform="translate(301.47,528.0) rotate(-90)" font-size="6.0" text-anchor="end" fill="#1a1a1a" style="stroke-width:0.24px" textLength="27.4" lengthAdjust="spacingAndGlyphs">RPMI8226</text>
<text transform="translate(306.24,528.0) rotate(-90)" font-size="6.0" text-anchor="end" fill="#1a1a1a" style="stroke-width:0.24px" textLength="18.0" lengthAdjust="spacingAndGlyphs">ANBL6</text>
<text transform="translate(311.00,528.0) rotate(-90)" font-size="6.0" text-anchor="end" fill="#1a1a1a" style="stroke-width:0.24px" textLength="19.0" lengthAdjust="spacingAndGlyphs">KMS26</text>
<text transform="translate(315.77,528.0) rotate(-90)" font-size="6.0" text-anchor="end" fill="#1a1a1a" style="stroke-width:0.24px" textLength="12.6" lengthAdjust="spacingAndGlyphs">CAG</text>
<text transform="translate(320.54,528.0) rotate(-90)" font-size="6.0" text-anchor="end" fill="#1a1a1a" style="stroke-width:0.24px" textLength="25.9" lengthAdjust="spacingAndGlyphs">MM1.144</text>
<text transform="translate(325.31,528.0) rotate(-90)" font-size="6.0" text-anchor="end" fill="#1a1a1a" style="stroke-width:0.24px" textLength="16.9" lengthAdjust="spacingAndGlyphs">OPM2</text>
<text transform="translate(330.08,528.0) rotate(-90)" font-size="6.0" text-anchor="end" fill="#1a1a1a" style="stroke-width:0.24px" textLength="12.0" lengthAdjust="spacingAndGlyphs">XG2</text>
<text transform="translate(334.84,528.0) rotate(-90)" font-size="6.0" text-anchor="end" fill="#1a1a1a" style="stroke-width:0.24px" textLength="19.0" lengthAdjust="spacingAndGlyphs">KMS11</text>
<text transform="translate(339.61,528.0) rotate(-90)" font-size="6.0" text-anchor="end" fill="#1a1a1a" style="stroke-width:0.24px" textLength="19.5" lengthAdjust="spacingAndGlyphs">KMS18</text>
<text transform="translate(344.38,528.0) rotate(-90)" font-size="6.0" text-anchor="end" fill="#1a1a1a" style="stroke-width:0.24px" textLength="15.3" lengthAdjust="spacingAndGlyphs">ARP1</text>
<text transform="translate(349.15,528.0) rotate(-90)" font-size="6.0" text-anchor="end" fill="#1a1a1a" style="stroke-width:0.24px" textLength="11.0" lengthAdjust="spacingAndGlyphs">PE2</text>
<text transform="translate(353.92,528.0) rotate(-90)" font-size="6.0" text-anchor="end" fill="#1a1a1a" style="stroke-width:0.24px" textLength="18.5" lengthAdjust="spacingAndGlyphs">KMS20</text>
<text transform="translate(358.68,528.0) rotate(-90)" font-size="6.0" text-anchor="end" fill="#1a1a1a" style="stroke-width:0.24px" textLength="13.2" lengthAdjust="spacingAndGlyphs">JJN3</text>
<text transform="translate(363.45,528.0) rotate(-90)" font-size="6.0" text-anchor="end" fill="#1a1a1a" style="stroke-width:0.24px" textLength="9.5" lengthAdjust="spacingAndGlyphs">LP1</text>
<text transform="translate(368.22,528.0) rotate(-90)" font-size="6.0" text-anchor="end" fill="#1a1a1a" style="stroke-width:0.24px" textLength="23.7" lengthAdjust="spacingAndGlyphs">OCI-MY5</text>
<text transform="translate(372.99,528.0) rotate(-90)" font-size="6.0" text-anchor="end" fill="#1a1a1a" style="stroke-width:0.24px" textLength="11.0" lengthAdjust="spacingAndGlyphs">JIM3</text>
<text transform="translate(377.76,528.0) rotate(-90)" font-size="6.0" text-anchor="end" fill="#1a1a1a" style="stroke-width:0.24px" textLength="20.0" lengthAdjust="spacingAndGlyphs">SKMM1</text>
<text transform="translate(382.52,528.0) rotate(-90)" font-size="6.0" text-anchor="end" fill="#1a1a1a" style="stroke-width:0.24px" textLength="15.8" lengthAdjust="spacingAndGlyphs">KMS5</text>
<text transform="translate(387.29,528.0) rotate(-90)" font-size="6.0" text-anchor="end" fill="#1a1a1a" style="stroke-width:0.24px" textLength="11.6" lengthAdjust="spacingAndGlyphs">EJM</text>
<text transform="translate(392.06,528.0) rotate(-90)" font-size="6.0" text-anchor="end" fill="#1a1a1a" style="stroke-width:0.24px" textLength="13.0" lengthAdjust="spacingAndGlyphs">XG3</text>
<text transform="translate(396.83,528.0) rotate(-90)" font-size="6.0" text-anchor="end" fill="#1a1a1a" style="stroke-width:0.24px" textLength="16.3" lengthAdjust="spacingAndGlyphs">OPM1</text>
<text transform="translate(401.60,528.0) rotate(-90)" font-size="6.0" text-anchor="end" fill="#1a1a1a" style="stroke-width:0.24px" textLength="11.0" lengthAdjust="spacingAndGlyphs">ARK</text>
<text transform="translate(406.36,528.0) rotate(-90)" font-size="6.0" text-anchor="end" fill="#1a1a1a" style="stroke-width:0.24px" textLength="18.0" lengthAdjust="spacingAndGlyphs">SACHI</text>
<text transform="translate(411.13,528.0) rotate(-90)" font-size="6.0" text-anchor="end" fill="#1a1a1a" style="stroke-width:0.24px" textLength="12.6" lengthAdjust="spacingAndGlyphs">L363</text>
<text transform="translate(415.90,528.0) rotate(-90)" font-size="6.0" text-anchor="end" fill="#1a1a1a" style="stroke-width:0.24px" textLength="10.0" lengthAdjust="spacingAndGlyphs">XG1</text>
<text transform="translate(420.67,528.0) rotate(-90)" font-size="6.0" text-anchor="end" fill="#1a1a1a" style="stroke-width:0.24px" textLength="32.7" lengthAdjust="spacingAndGlyphs">KARPAS620</text>
<text transform="translate(425.44,528.0) rotate(-90)" font-size="6.0" text-anchor="end" fill="#1a1a1a" style="stroke-width:0.24px" textLength="9.0" lengthAdjust="spacingAndGlyphs">LP1</text>
<text transform="translate(430.20,528.0) rotate(-90)" font-size="6.0" text-anchor="end" fill="#1a1a1a" style="stroke-width:0.24px" textLength="19.0" lengthAdjust="spacingAndGlyphs">KMS27</text>
<text transform="translate(434.97,528.0) rotate(-90)" font-size="6.0" text-anchor="end" fill="#1a1a1a" style="stroke-width:0.24px" textLength="10.5" lengthAdjust="spacingAndGlyphs">KG1</text>
<text transform="translate(439.74,528.0) rotate(-90)" font-size="6.0" text-anchor="end" fill="#1a1a1a" style="stroke-width:0.24px" textLength="20.0" lengthAdjust="spacingAndGlyphs">UTMC2</text>
<text transform="translate(444.51,528.0) rotate(-90)" font-size="6.0" text-anchor="end" fill="#1a1a1a" style="stroke-width:0.24px" textLength="21.0" lengthAdjust="spacingAndGlyphs">KHM-1B</text>
<text transform="translate(449.28,528.0) rotate(-90)" font-size="6.0" text-anchor="end" fill="#1a1a1a" style="stroke-width:0.24px" textLength="23.2" lengthAdjust="spacingAndGlyphs">OCI-MY1</text>
<text transform="translate(454.04,528.0) rotate(-90)" font-size="6.0" text-anchor="end" fill="#1a1a1a" style="stroke-width:0.24px" textLength="23.7" lengthAdjust="spacingAndGlyphs">OCI-MY7</text>
<text transform="translate(458.81,528.0) rotate(-90)" font-size="6.0" text-anchor="end" fill="#1a1a1a" style="stroke-width:0.24px" textLength="19.5" lengthAdjust="spacingAndGlyphs">Delta47</text>
<text transform="translate(463.58,528.0) rotate(-90)" font-size="6.0" text-anchor="end" fill="#1a1a1a" style="stroke-width:0.24px" textLength="11.0" lengthAdjust="spacingAndGlyphs">KG1</text>
<text transform="translate(468.35,528.0) rotate(-90)" font-size="6.0" text-anchor="end" fill="#1a1a1a" style="stroke-width:0.24px" textLength="13.2" lengthAdjust="spacingAndGlyphs">LINK</text>
<text transform="translate(473.12,528.0) rotate(-90)" font-size="6.0" text-anchor="end" fill="#1a1a1a" style="stroke-width:0.24px" textLength="20.8" lengthAdjust="spacingAndGlyphs">FLAM76</text>
<text transform="translate(477.88,528.0) rotate(-90)" font-size="6.0" text-anchor="end" fill="#1a1a1a" style="stroke-width:0.24px" textLength="20.4" lengthAdjust="spacingAndGlyphs">KMS34</text>
<text transform="translate(482.65,528.0) rotate(-90)" font-size="6.0" text-anchor="end" fill="#1a1a1a" style="stroke-width:0.24px" textLength="27.6" lengthAdjust="spacingAndGlyphs">KMS28BM</text>
<text transform="translate(487.42,528.0) rotate(-90)" font-size="6.0" text-anchor="end" fill="#1a1a1a" style="stroke-width:0.24px" textLength="26.6" lengthAdjust="spacingAndGlyphs">KMS12BM</text>
<text transform="translate(492.19,528.0) rotate(-90)" font-size="6.0" text-anchor="end" fill="#1a1a1a" style="stroke-width:0.24px" textLength="28.0" lengthAdjust="spacingAndGlyphs">KMS28PE</text>
<text transform="translate(496.96,528.0) rotate(-90)" font-size="6.0" text-anchor="end" fill="#1a1a1a" style="stroke-width:0.24px" textLength="20.4" lengthAdjust="spacingAndGlyphs">MM_M1</text>
<text transform="translate(501.72,528.0) rotate(-90)" font-size="6.0" text-anchor="end" fill="#1a1a1a" style="stroke-width:0.24px" textLength="10.3" lengthAdjust="spacingAndGlyphs">PE1</text>
<text transform="translate(506.49,528.0) rotate(-90)" font-size="6.0" text-anchor="end" fill="#1a1a1a" style="stroke-width:0.24px" textLength="12.7" lengthAdjust="spacingAndGlyphs">XG6</text>
<text transform="translate(511.26,528.0) rotate(-90)" font-size="6.0" text-anchor="end" fill="#1a1a1a" style="stroke-width:0.24px" textLength="26.0" lengthAdjust="spacingAndGlyphs">KMS12PE</text>
<text transform="translate(516.03,528.0) rotate(-90)" font-size="6.0" text-anchor="end" fill="#1a1a1a" style="stroke-width:0.24px" textLength="17.0" lengthAdjust="spacingAndGlyphs">H1112</text>
<line x1="293.20" y1="461.50" x2="515.30" y2="461.50" stroke="#222" stroke-width="1.3"/>
<rect x="293.20" y="400.20" width="222.10" height="125.10" fill="none" stroke="#333" stroke-width="1.2"/>
<text x="289.60" y="412.00" font-size="7.5" text-anchor="end" font-weight="normal" fill="#1a1a1a" >3</text>
<text x="289.60" y="429.50" font-size="7.5" text-anchor="end" font-weight="normal" fill="#1a1a1a" >2</text>
<text x="289.60" y="447.00" font-size="7.5" text-anchor="end" font-weight="normal" fill="#1a1a1a" >1</text>
<text x="289.60" y="464.00" font-size="7.5" text-anchor="end" font-weight="normal" fill="#1a1a1a" >0</text>
<text x="289.60" y="481.10" font-size="7.5" text-anchor="end" font-weight="normal" fill="#1a1a1a" >-1</text>
<text x="289.60" y="498.10" font-size="7.5" text-anchor="end" font-weight="normal" fill="#1a1a1a" >-2</text>
<text x="289.60" y="515.20" font-size="7.5" text-anchor="end" font-weight="normal" fill="#1a1a1a" >-3</text>
<line x1="293.80" y1="565.40" x2="514.70" y2="565.40" stroke="#222" stroke-width="1.1"/>
<text x="346.20" y="575.80" font-size="9" text-anchor="start" font-weight="normal" fill="#1a1a1a" >Multiple myeloma cell lines (n=47)</text>
<text x="265.70" y="605.00" font-size="9" text-anchor="end" font-weight="normal" fill="#1a1a1a" >Multiple</text>
<text x="265.70" y="615.80" font-size="9" text-anchor="end" font-weight="normal" fill="#1a1a1a" >Myeloma</text>
<text x="265.70" y="626.00" font-size="9" text-anchor="end" font-weight="normal" fill="#1a1a1a" >subgroup</text>
<rect x="270.30" y="596.40" width="32.60" height="32.30" fill="none" stroke="#222" stroke-width="1.1"/>
<rect x="273.80" y="599.00" width="7.30" height="6.60" fill="#1144ff" />
<rect x="273.80" y="609.40" width="7.30" height="6.20" fill="#ee0a0a" />
<rect x="273.80" y="619.40" width="7.30" height="6.60" fill="#cfcfcf" />
<text x="284.00" y="605.00" font-size="7" text-anchor="start" font-weight="normal" fill="#1a1a1a" >MF</text>
<text x="284.00" y="615.20" font-size="7" text-anchor="start" font-weight="normal" fill="#1a1a1a" >MS</text>
<text x="284.00" y="625.20" font-size="7" text-anchor="start" font-weight="normal" fill="#1a1a1a" >other</text>
</svg>
</body></html>
